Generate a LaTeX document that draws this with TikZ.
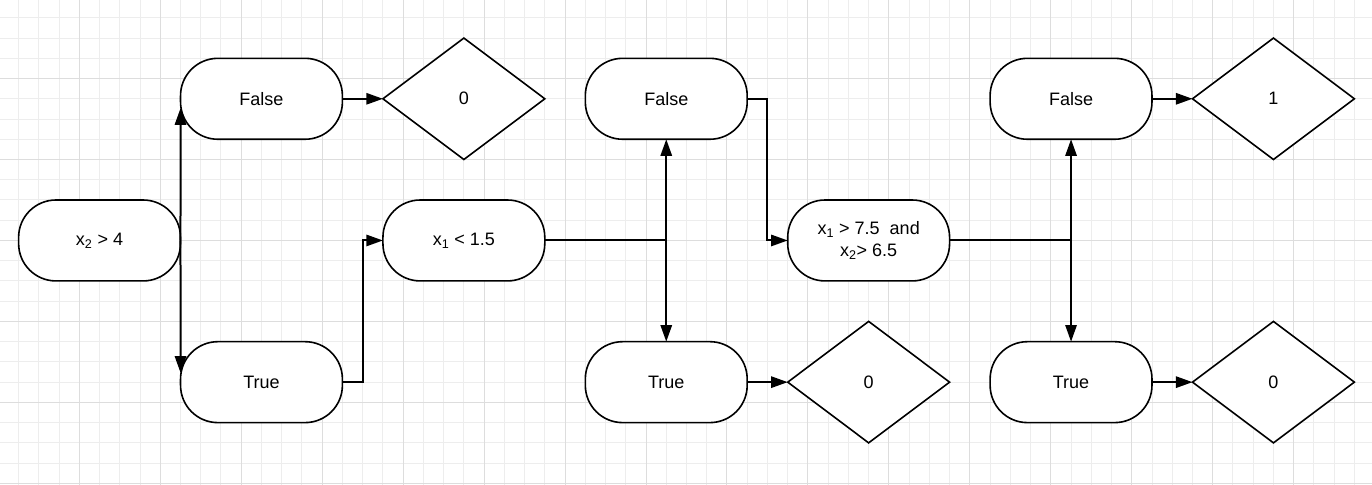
\documentclass[tikz,border=0pt]{standalone}
\usepackage{fontspec}
\setmainfont{Liberation Sans}
\usetikzlibrary{shapes.geometric, arrows.meta, positioning}
\definecolor{gridminor}{HTML}{EDEDED}
\definecolor{gridmajor}{HTML}{DDDDDD}

\begin{document}
\begin{tikzpicture}[x=15.18pt, y=-15.18pt, node distance=151.8pt, font=\fontsize{13.5}{16}\selectfont]
    \tikzstyle{test} = [rectangle, rounded corners=28pt, minimum width=121.4pt, minimum height=60.7pt, text centered, align=center, draw=black, fill=white, line width=1.2pt, outer sep=0pt]
    \tikzstyle{leaf} = [diamond, minimum width=121.4pt, minimum height=91.1pt, inner sep=0pt, draw=black, fill=white, line width=1.2pt, outer sep=0pt]
    \tikzstyle{link} = [line width=1.5pt, -{Triangle[length=12.5pt, width=8.5pt]}]
    \tikzstyle{minorline} = [draw=gridminor, line width=0.75pt]
    \tikzstyle{majorline} = [draw=gridmajor, line width=0.75pt]

    % Background grid
    \useasboundingbox (0.081,0.119) rectangle (67.87,24.08);
    \fill [white] (0.081,0.119) rectangle (67.87,24.08);
    \foreach \i in {1,...,67} \draw [minorline] (\i,0.119) -- (\i,24.08);
    \foreach \j in {1,...,24} \draw [minorline] (0.081,\j) -- (67.87,\j);
    \foreach \i in {4,8,...,64} \draw [majorline] (\i,0.119) -- (\i,24.08);
    \foreach \j in {4,8,...,24} \draw [majorline] (0.081,\j) -- (67.87,\j);

    % Tests
    \node [test] (x24) at (5,12) {x\textsubscript{2} > 4};
    \node [test] (f1) at (13,5) {False};
    \node [test] (t1) at (13,19) {True};
    \node [test] (x115) at (23,12) {x\textsubscript{1} < 1.5};
    \node [test] (f2) at (33,5) {False};
    \node [test] (t2) at (33,19) {True};
    \node [test] (x175) at (43,12) {x\textsubscript{1} > 7.5~ and\\x\textsubscript{2}> 6.5};
    \node [test] (f3) at (53,5) {False};
    \node [test] (t3) at (53,19) {True};

    % Leaves
    \node [leaf, right of=f1] (leafa) {0};
    \node [leaf, right of=t2] (leafb) {0};
    \node [leaf, right of=f3] (leafc) {1};
    \node [leaf, right of=t3] (leafd) {0};

    % Connections
    \draw [link] (x24.east) -- ([yshift=-7pt]f1.west);
    \draw [link] (x24.east) -- ([yshift=7pt]t1.west);
    \draw [link] (f1) -- (leafa);
    \draw [link] (t1.east) -- ++(1,0) |- (x115.west);

    \draw [link] (x115.east) -| (f2.south);
    \draw [link] (x115.east) -| (t2.north);
    \draw [link] (t2) -- (leafb);
    \draw [link] (f2.east) -- ++(1,0) |- (x175.west);

    \draw [link] (x175.east) -| (f3.south);
    \draw [link] (x175.east) -| (t3.north);
    \draw [link] (f3) -- (leafc);
    \draw [link] (t3) -- (leafd);
\end{tikzpicture}
\end{document}
